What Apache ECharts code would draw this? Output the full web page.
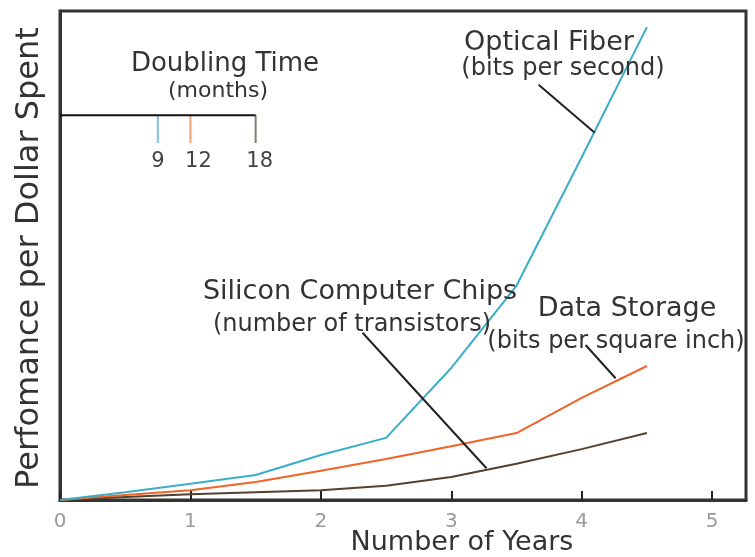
<!DOCTYPE html>
<html>
<head>
<meta charset="utf-8">
<script src="https://cdn.jsdelivr.net/npm/echarts@6/dist/echarts.min.js"></script>
<style>html,body{margin:0;padding:0;background:#fff}#c{width:755px;height:557px}</style>
</head>
<body>
<div id="c"></div>
<script>
// ---- data ----
const years = [0, 0.5, 1, 1.5, 2, 2.5, 3, 3.5, 4, 4.5];
const opticalFiber = [0, 1.6, 3.3, 5.1, 9.2, 12.7, 27.0, 43.8, 70.1, 96.7];
const dataStorage = [0, 1.0, 2.0, 3.7, 6.0, 8.4, 11.0, 13.7, 20.9, 27.4];
const siliconChips = [0, 0.6, 1.2, 1.6, 2.0, 2.9, 4.7, 7.4, 10.4, 13.7];
const xTicks = [0, 1, 2, 3, 4, 5];
const doublingMonths = [9, 12, 18];
const doublingLabels = ['9', '12', '18'];
const legendLevel = 78.7;
const legendTickEnd = 73.0;
const calloutFiber = [[3.67, 84.9], [4.10, 75.1]];
const calloutChips = [[2.32, 34.2], [3.27, 6.5]];
const calloutStorage = [[4.03, 31.7], [4.26, 24.9]];

// ---- styling ----
const FONT = '"DejaVu Sans", sans-serif';
const TXT = '#333';
const colFiber = '#3aaec6', colStorage = '#f06428', colChips = '#54402e';
const tickCols = ['#7cc6d6', '#f0a07a', '#8c7c6c'];
const labelOffsets = [[0, 0], [8, 0], [4, 0]];

const zip = (xs, ys) => xs.map((x, i) => [x, ys[i]]);

const chart = echarts.init(document.getElementById('c'), null, {renderer: 'canvas'});

const series = [
  {type: 'line', data: zip(years, siliconChips), symbol: 'none', lineStyle: {color: colChips, width: 2}, z: 3},
  {type: 'line', data: zip(years, dataStorage), symbol: 'none', lineStyle: {color: colStorage, width: 2}, z: 3},
  {type: 'line', data: zip(years, opticalFiber), symbol: 'none', lineStyle: {color: colFiber, width: 2}, z: 3},
  {type: 'line', data: [[0, legendLevel], [doublingMonths[doublingMonths.length - 1] / 12, legendLevel]], symbol: 'none', lineStyle: {color: '#111', width: 2}, z: 4},
  {type: 'line', data: calloutFiber, symbol: 'none', lineStyle: {color: '#222', width: 2}, z: 4},
  {type: 'line', data: calloutChips, symbol: 'none', lineStyle: {color: '#222', width: 2}, z: 4},
  {type: 'line', data: calloutStorage, symbol: 'none', lineStyle: {color: '#222', width: 2}, z: 4}
];
doublingMonths.forEach((m, i) => {
  series.push({
    type: 'line', symbol: 'none', z: 3,
    lineStyle: {color: tickCols[i], width: 2},
    data: [
      [m / 12, legendLevel],
      {value: [m / 12, legendTickEnd], symbol: 'circle', symbolSize: 0.1,
       label: {show: true, position: 'bottom', distance: 8, offset: labelOffsets[i], formatter: doublingLabels[i],
               color: '#444', fontSize: 21, fontFamily: FONT}}
    ]
  });
});

const text = (t, x, y, size, extra) => Object.assign({
  type: 'text', x: x, y: y, z: 10,
  style: {text: t, fill: TXT, font: size + 'px ' + FONT, align: 'center', verticalAlign: 'middle'}
}, extra || {});

chart.setOption({
  animation: false,
  backgroundColor: '#fff',
  grid: {left: 60, top: 11, right: 9, bottom: 57, show: true, borderColor: '#333', borderWidth: 3},
  xAxis: {
    type: 'value', min: 0, max: 5.26, interval: 1,
    axisLine: {show: true, lineStyle: {color: '#333', width: 3}},
    axisTick: {show: true, inside: true, length: 9, lineStyle: {color: '#222', width: 2},
               customValues: xTicks},
    axisLabel: {color: '#9a9a9a', fontSize: 20, fontFamily: FONT, margin: 12,
                customValues: xTicks,
                formatter: v => (xTicks.indexOf(v) >= 0 ? String(v) : '')},
    splitLine: {show: false}
  },
  yAxis: {
    type: 'value', min: 0, max: 100,
    axisLine: {show: true, lineStyle: {color: '#333', width: 3}},
    axisTick: {show: false}, axisLabel: {show: false}, splitLine: {show: false}
  },
  series: series,
  graphic: [
    text('Perfomance per Dollar Spent', 30, 258, 32, {rotation: Math.PI / 2}),
    text('Number of Years', 462, 543, 27),
    text('Doubling Time', 225, 64, 26),
    text('(months)', 218, 91, 22),
    text('Optical Fiber', 549, 43, 27),
    text('(bits per second)', 563, 69, 24),
    text('Silicon Computer Chips', 360, 292, 27),
    text('(number of transistors)', 352, 325, 24),
    text('Data Storage', 627, 309, 27),
    text('(bits per square inch)', 616, 342, 24)
  ]
});
</script>
</body>
</html>
